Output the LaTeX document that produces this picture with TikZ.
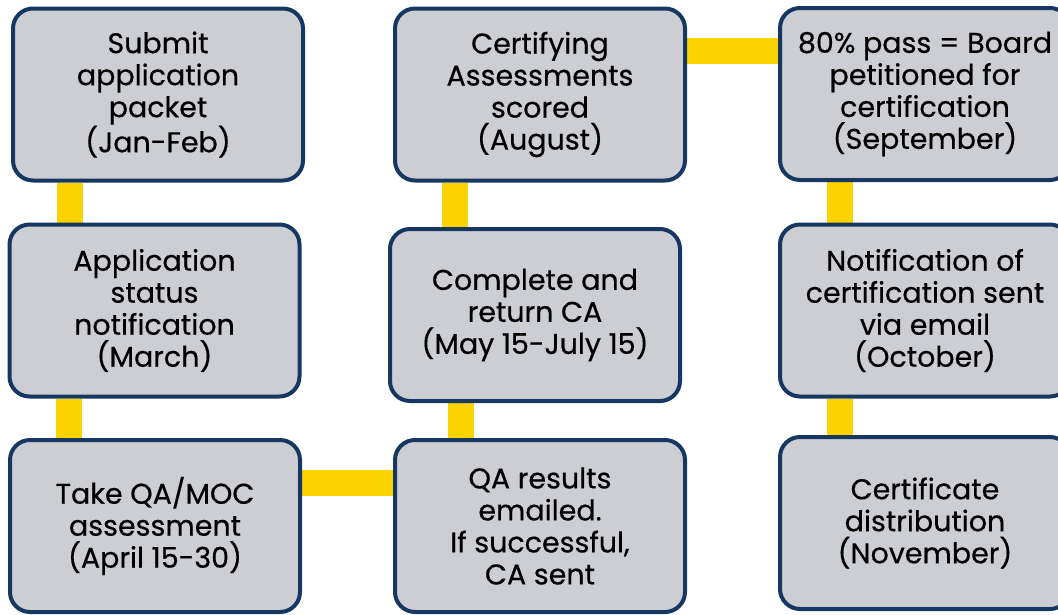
\documentclass[tikz,border=0pt]{standalone}
\usepackage{fontspec}
\setmainfont{Poppins}[FakeBold=0.5]
\usepackage{xcolor}
\usepackage{tikz}
\usetikzlibrary{positioning, backgrounds, calc}
\definecolor{BoxNavy}{RGB}{23, 55, 99}
\definecolor{BoxGrey}{RGB}{205, 206, 211}
\definecolor{LinkGold}{RGB}{250, 211, 0}
\tikzset{
	stepbox/.style={draw=BoxNavy, fill=BoxGrey, line width=4pt, rounded corners=20pt,
		minimum width=290pt, minimum height=172pt, align=center, text=black,
		font=\fontsize{28.5}{32}\selectfont},
	link/.style={draw=LinkGold, line width=26pt},
}

\begin{document}
\begin{tikzpicture}[x=1pt, y=-1pt]
	\useasboundingbox (0,0) rectangle (1058,614);

	% left column
	\node[stepbox] (submit) at (158,94.5) {Submit\\application\\packet\\(Jan-Feb)};
	\node[stepbox] (status) at (154.5,310.5) {Application\\status\\notification\\(March)};
	\node[stepbox] (take) at (155,526) {Take QA/MOC\\assessment\\(April 15-30)};

	% middle column
	\node[stepbox] (scored) at (540,94.5) {Certifying\\Assessments\\scored\\(August)};
	\node[stepbox] (complete) at (535,315) {Complete and\\return CA\\(May 15-July 15)};
	\node[stepbox] (results) at (540,526) {QA results\\emailed.\\If successful,\\CA sent};

	% right column
	\node[stepbox] (petition) at (925,94) {80\% pass = Board\\petitioned for\\certification\\(September)};
	\node[stepbox] (notify) at (925,310.5) {Notification of\\certification sent\\via email\\(October)};
	\node[stepbox] (distrib) at (925,523) {Certificate\\distribution\\(November)};

	\begin{scope}[on background layer]
		\draw[link] ([xshift=-88pt]submit.south) -- ([xshift=-88pt]submit.south |- status.north);
		\draw[link] ([xshift=-86pt]status.south) -- ([xshift=-86pt]status.south |- take.north);
		\draw[link] ([yshift=43.5pt]take.east) -- ([yshift=43.5pt]take.east -| results.west);
		\draw[link] ([xshift=-79.5pt]results.north) -- ([xshift=-79.5pt]results.north |- complete.south);
		\draw[link] ([xshift=-80pt]complete.north) -- ([xshift=-80pt]complete.north |- scored.south);
		\draw[link] ([yshift=43.5pt]scored.east) -- ([yshift=43.5pt]scored.east -| petition.west);
		\draw[link] ([xshift=-85.5pt]petition.south) -- ([xshift=-85.5pt]petition.south |- notify.north);
		\draw[link] ([xshift=-85.5pt]notify.south) -- ([xshift=-85.5pt]notify.south |- distrib.north);
	\end{scope}
\end{tikzpicture}
\end{document}
